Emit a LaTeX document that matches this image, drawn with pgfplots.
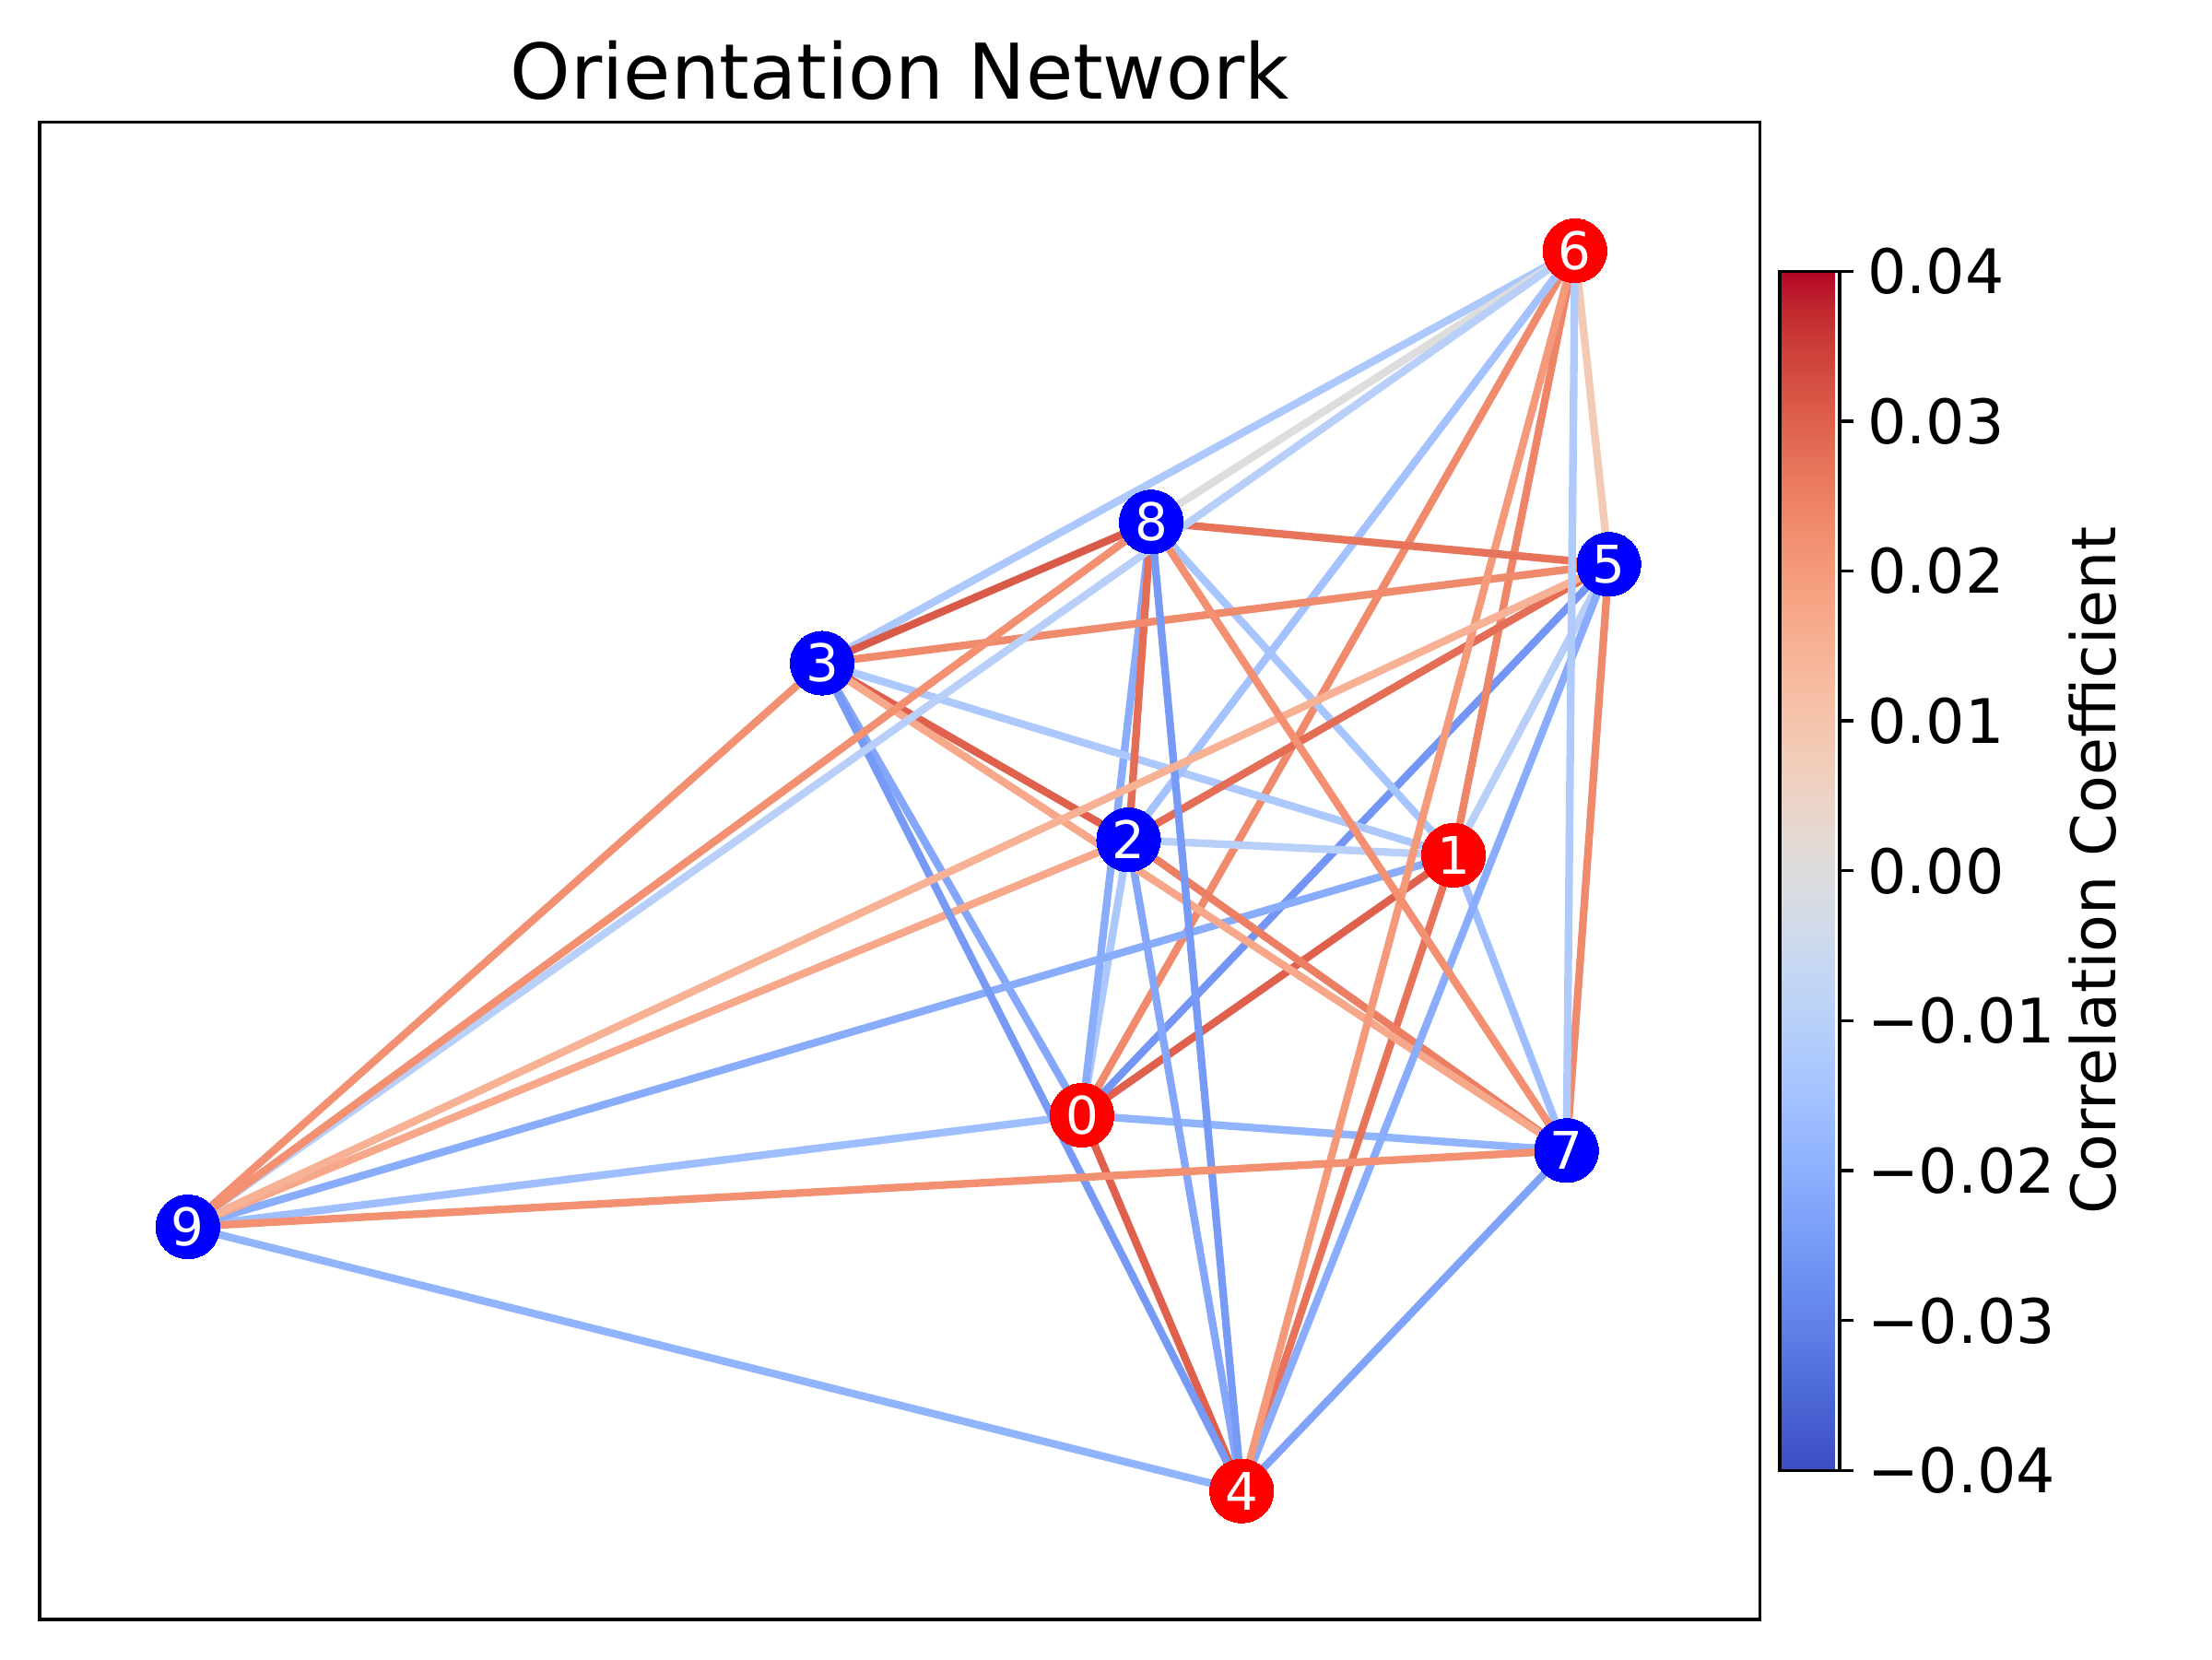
\documentclass[border=0pt]{standalone}
\usepackage{fontspec}
\setmainfont{DejaVu Sans}
\usepackage{pgfplots}
\pgfplotsset{compat=1.18}
\pgfplotsset{colormap={coolwarm}{
rgb255=(59,76,192) rgb255=(68,90,204) rgb255=(77,104,215) rgb255=(87,117,225)
rgb255=(98,130,234) rgb255=(108,142,241) rgb255=(119,154,247) rgb255=(130,165,251)
rgb255=(141,176,254) rgb255=(152,185,255) rgb255=(163,194,255) rgb255=(174,201,253)
rgb255=(184,208,249) rgb255=(194,213,244) rgb255=(204,217,238) rgb255=(213,219,230)
rgb255=(221,221,221) rgb255=(229,216,209) rgb255=(236,211,197) rgb255=(241,204,184)
rgb255=(245,196,172) rgb255=(247,187,160) rgb255=(247,177,148) rgb255=(247,166,135)
rgb255=(244,154,123) rgb255=(241,141,111) rgb255=(236,127,99) rgb255=(229,112,88)
rgb255=(222,96,77) rgb255=(213,80,66) rgb255=(203,62,56) rgb255=(192,40,47)
rgb255=(180,4,38)}}
\pgfplotsset{edge/.style={mesh, point meta=explicit, line width=2pt, no markers, forget plot}}
\begin{document}
\begin{tikzpicture}
\path[use as bounding box] (0,0) rectangle (576pt,432pt);
\begin{axis}[
  at={(10.3pt,10.3pt)}, anchor=south west,
  scale only axis, width=448pt, height=389.9pt,
  xmin=28, xmax=1246, ymin=28, ymax=1088,
  xtick=\empty, ytick=\empty,
  axis line style={line width=0.8pt},
  colormap name=coolwarm,
  point meta min=-0.04, point meta max=0.04,
  title={Orientation Network},
  every axis title shift=0pt,
  title style={font=\fontsize{20}{24}\selectfont, at={(0.5,1)}, anchor=base, yshift=6pt, inner sep=0pt},
  colorbar,
  colorbar style={
    at={(parent axis.east)}, anchor=west, xshift=-3.4pt,
    scale only axis, width=15.6pt, height=312.3pt,
    axis line style={line width=0.8pt},
    scaled y ticks=false,
    ytick={-0.04,-0.03,-0.02,-0.01,0,0.01,0.02,0.03,0.04},
    yticklabels={−0.04,−0.03,−0.02,−0.01,0.00,0.01,0.02,0.03,0.04},
    ytick pos=right, yticklabel pos=right,
    tick align=outside, major tick length=3.5pt,
    major tick style={line width=0.8pt, black},
    yticklabel style={font=\fontsize{16}{19}\selectfont, inner sep=0pt, xshift=3.5pt},
    ylabel={Correlation Coefficient},
    ylabel style={font=\fontsize{16}{19}\selectfont},
  },
]
% edges
\addplot[edge] coordinates {(766,385) [0.030] (1029,569) [0.030]};
\addplot[edge] coordinates {(766,385) [-0.013] (799,580) [-0.013]};
\addplot[edge] coordinates {(766,385) [-0.022] (582,705) [-0.022]};
\addplot[edge] coordinates {(766,385) [0.030] (879,119) [0.030]};
\addplot[edge] coordinates {(766,385) [-0.026] (1139,775) [-0.026]};
\addplot[edge] coordinates {(766,385) [0.023] (1115,997) [0.023]};
\addplot[edge] coordinates {(766,385) [-0.019] (1109,360) [-0.019]};
\addplot[edge] coordinates {(766,385) [-0.021] (815,805) [-0.021]};
\addplot[edge] coordinates {(766,385) [-0.016] (133,306) [-0.016]};
\addplot[edge] coordinates {(1029,569) [-0.010] (799,580) [-0.010]};
\addplot[edge] coordinates {(1029,569) [-0.013] (582,705) [-0.013]};
\addplot[edge] coordinates {(1029,569) [0.027] (879,119) [0.027]};
\addplot[edge] coordinates {(1029,569) [-0.010] (1139,775) [-0.010]};
\addplot[edge] coordinates {(1029,569) [0.024] (1115,997) [0.024]};
\addplot[edge] coordinates {(1029,569) [-0.016] (1109,360) [-0.016]};
\addplot[edge] coordinates {(1029,569) [-0.014] (815,805) [-0.014]};
\addplot[edge] coordinates {(1029,569) [-0.021] (133,306) [-0.021]};
\addplot[edge] coordinates {(799,580) [0.030] (582,705) [0.030]};
\addplot[edge] coordinates {(799,580) [-0.022] (879,119) [-0.022]};
\addplot[edge] coordinates {(799,580) [0.028] (1139,775) [0.028]};
\addplot[edge] coordinates {(799,580) [-0.015] (1115,997) [-0.015]};
\addplot[edge] coordinates {(799,580) [0.025] (1109,360) [0.025]};
\addplot[edge] coordinates {(799,580) [0.028] (815,805) [0.028]};
\addplot[edge] coordinates {(799,580) [0.017] (133,306) [0.017]};
\addplot[edge] coordinates {(582,705) [-0.025] (879,119) [-0.025]};
\addplot[edge] coordinates {(582,705) [0.023] (1139,775) [0.023]};
\addplot[edge] coordinates {(582,705) [-0.013] (1115,997) [-0.013]};
\addplot[edge] coordinates {(582,705) [0.017] (1109,360) [0.017]};
\addplot[edge] coordinates {(582,705) [0.031] (815,805) [0.031]};
\addplot[edge] coordinates {(582,705) [0.022] (133,306) [0.022]};
\addplot[edge] coordinates {(879,119) [-0.021] (1139,775) [-0.021]};
\addplot[edge] coordinates {(879,119) [0.020] (1115,997) [0.020]};
\addplot[edge] coordinates {(879,119) [-0.023] (1109,360) [-0.023]};
\addplot[edge] coordinates {(879,119) [-0.025] (815,805) [-0.025]};
\addplot[edge] coordinates {(879,119) [-0.019] (133,306) [-0.019]};
\addplot[edge] coordinates {(1139,775) [0.008] (1115,997) [0.008]};
\addplot[edge] coordinates {(1139,775) [0.023] (1109,360) [0.023]};
\addplot[edge] coordinates {(1139,775) [0.027] (815,805) [0.027]};
\addplot[edge] coordinates {(1139,775) [0.015] (133,306) [0.015]};
\addplot[edge] coordinates {(1115,997) [-0.012] (1109,360) [-0.012]};
\addplot[edge] coordinates {(1115,997) [0.000] (815,805) [0.000]};
\addplot[edge] coordinates {(1115,997) [-0.010] (133,306) [-0.010]};
\addplot[edge] coordinates {(1109,360) [0.022] (815,805) [0.022]};
\addplot[edge] coordinates {(1109,360) [0.022] (133,306) [0.022]};
\addplot[edge] coordinates {(815,805) [0.022] (133,306) [0.022]};
% nodes
\addplot[red, only marks, mark=*, mark size=8.3pt, mark options={solid, draw=red, fill=red, line width=0pt},
  point meta=explicit symbolic, nodes near coords,
  nodes near coords style={anchor=center, text=white, inner sep=0pt, font=\fontsize{13.5}{16}\selectfont}]
  coordinates {(766,385) [0] (1029,569) [1] (879,119) [4] (1115,997) [6]};
\addplot[blue, only marks, mark=*, mark size=8.3pt, mark options={solid, draw=blue, fill=blue, line width=0pt},
  point meta=explicit symbolic, nodes near coords,
  nodes near coords style={anchor=center, text=white, inner sep=0pt, font=\fontsize{13.5}{16}\selectfont}]
  coordinates {(799,580) [2] (582,705) [3] (1139,775) [5] (1109,360) [7] (815,805) [8] (133,306) [9]};
\end{axis}
\end{tikzpicture}
\end{document}
